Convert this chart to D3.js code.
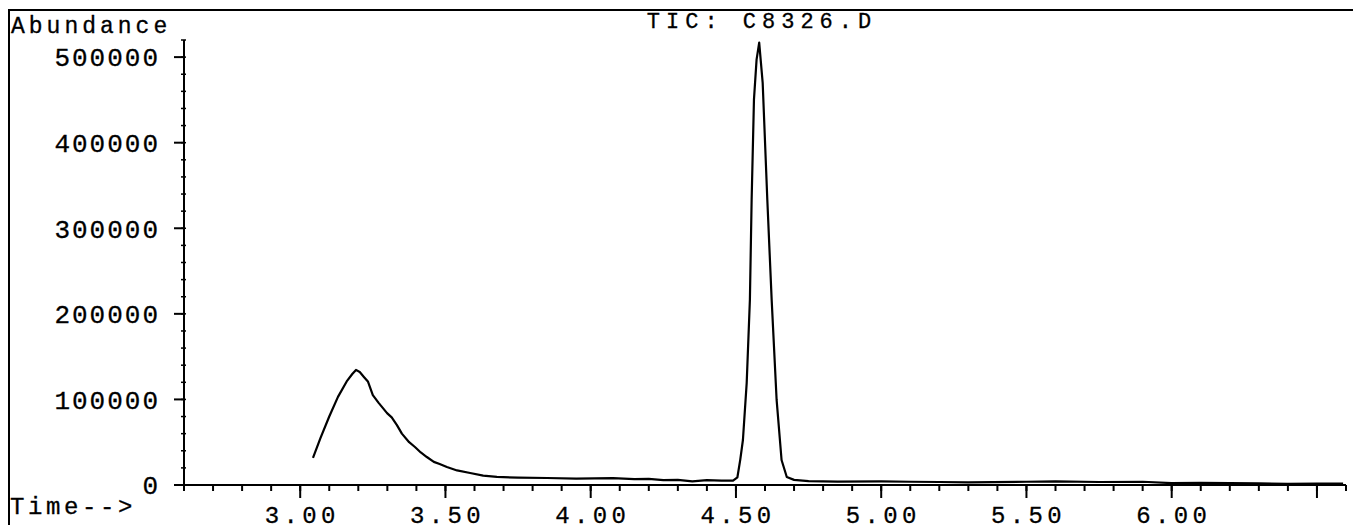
<!DOCTYPE html>
<html lang="en">
<head>
<meta charset="UTF-8">
<title>TIC: C8326.D</title>
<script src="https://d3js.org/d3.v7.min.js"></script>
<style>
  body { margin: 0; background: #fff; }
  text { font-family: "Liberation Mono", "DejaVu Sans Mono", monospace; fill: #000; stroke: #000; stroke-width: 0.3px; }
</style>
</head>
<body>
<script>
// retention time (min) and abundance
var times = [3.044, 3.07, 3.10, 3.13, 3.16, 3.18, 3.192, 3.205, 3.22, 3.233, 3.25, 3.27, 3.299, 3.315,
  3.333, 3.35, 3.375, 3.395, 3.415, 3.436, 3.46, 3.48, 3.505, 3.54, 3.585, 3.63, 3.677, 3.75, 3.85,
  3.95, 4.077, 4.15, 4.2, 4.25, 4.3, 4.35, 4.4, 4.45, 4.49, 4.505, 4.515, 4.524, 4.537, 4.548, 4.554,
  4.562, 4.571, 4.580, 4.592, 4.608, 4.623, 4.640, 4.657, 4.675, 4.70, 4.75, 4.85, 5.0, 5.1, 5.2,
  5.3, 5.5, 5.6, 5.75, 5.9, 6.0, 6.1, 6.3, 6.4, 6.5, 6.59];
var abundance = [31600, 55000, 80000, 103000, 121000, 130000, 134500, 132000, 126000, 121000, 105000,
  96000, 84000, 79000, 70000, 60000, 50000, 44400, 38000, 32700, 27000, 24500, 21000, 17000, 14000,
  11000, 9400, 8600, 8200, 7400, 8000, 6800, 7200, 5800, 6000, 4200, 5600, 5000, 5200, 9000, 30000,
  52600, 119300, 216400, 333300, 450300, 497000, 517000, 470000, 333000, 216000, 99400, 29200, 9400,
  6000, 4500, 4000, 4200, 3800, 3500, 3000, 3800, 4200, 3500, 3800, 2200, 2500, 1800, 1400, 1600, 1500];

var xTickLabels = ["3.00", "3.50", "4.00", "4.50", "5.00", "5.50", "6.00"];
var xMajorTicks = [3.0, 3.5, 4.0, 4.5, 5.0, 5.5, 6.0, 6.5];
var yTickValues = [0, 100000, 200000, 300000, 400000, 500000];

var W = 1353, H = 530;
var svg = d3.select("body").append("svg").attr("width", W).attr("height", H);

var x = d3.scaleLinear().domain([2.6, 6.6]).range([184, 1346]);
var y = d3.scaleLinear().domain([0, 520000]).range([485, 40]);

// frame lines at top and left
svg.append("line").attr("x1", 8).attr("x2", W).attr("y1", 10).attr("y2", 10)
  .attr("stroke", "#000").attr("stroke-width", 2);
svg.append("line").attr("x1", 9).attr("x2", 9).attr("y1", 10).attr("y2", 525)
  .attr("stroke", "#000").attr("stroke-width", 2);

// y axis
var yAxis = svg.append("g").attr("transform", "translate(" + x(2.6) + ",0)");
yAxis.append("line").attr("y1", y(520000)).attr("y2", y(0)).attr("stroke", "#000").attr("stroke-width", 2);
yAxis.selectAll(".ymin").data(d3.range(0, 520001, 20000)).enter().append("line")
  .attr("x1", -3).attr("x2", 2).attr("y1", d => y(d)).attr("y2", d => y(d))
  .attr("stroke", "#000").attr("stroke-width", 1.5);
yAxis.selectAll(".ymaj").data(yTickValues).enter().append("line")
  .attr("x1", -10).attr("x2", 0).attr("y1", d => y(d)).attr("y2", d => y(d))
  .attr("stroke", "#000").attr("stroke-width", 2);
yAxis.selectAll(".ylab").data(yTickValues).enter().append("text")
  .attr("x", -24).attr("y", d => y(d)).attr("dy", "0.36em")
  .attr("text-anchor", "end").attr("font-size", 26).attr("letter-spacing", 2)
  .text(d => d);

// x axis
var xAxis = svg.append("g").attr("transform", "translate(0," + y(0) + ")");
xAxis.append("line").attr("x1", x(2.6)).attr("x2", x(6.6)).attr("stroke", "#000").attr("stroke-width", 2);
xAxis.selectAll(".xmin").data(d3.range(26, 67).map(d => d / 10)).enter().append("line")
  .attr("x1", d => x(d)).attr("x2", d => x(d)).attr("y1", 0).attr("y2", 6)
  .attr("stroke", "#000").attr("stroke-width", 2);
xAxis.selectAll(".xmaj").data(xMajorTicks).enter().append("line")
  .attr("x1", d => x(d)).attr("x2", d => x(d)).attr("y1", 0).attr("y2", 13)
  .attr("stroke", "#000").attr("stroke-width", 2);
xAxis.selectAll(".xlab").data(xTickLabels).enter().append("text")
  .attr("x", d => x(+d) + 2).attr("y", 38)
  .attr("text-anchor", "middle").attr("font-size", 24).attr("letter-spacing", 4.3)
  .text(d => d);

// trace
var line = d3.line().x((d, i) => x(times[i])).y(d => y(d));
svg.append("path").datum(abundance).attr("d", line)
  .attr("fill", "none").attr("stroke", "#000").attr("stroke-width", 2.2).attr("stroke-linejoin", "round");

// labels
svg.append("text").attr("x", 11).attr("y", 33).attr("font-size", 23).attr("letter-spacing", 4).text("Abundance");
svg.append("text").attr("x", 762).attr("y", 28).attr("text-anchor", "middle")
  .attr("font-size", 22).attr("letter-spacing", 6).text("TIC: C8326.D");
svg.append("text").attr("x", 10).attr("y", 514).attr("font-size", 24).attr("letter-spacing", 3.6).text("Time-->");
</script>
</body>
</html>
